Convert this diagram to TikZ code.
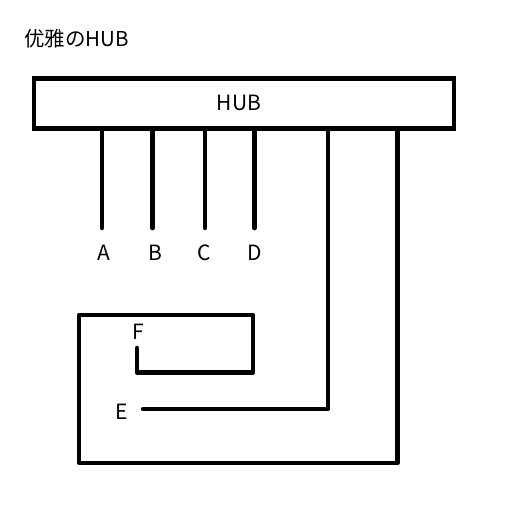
\documentclass[tikz,border=0pt]{standalone}
\usepackage{fontspec}
\setmainfont{Noto Sans CJK SC}
\usepackage{tikz}
\usetikzlibrary{positioning}

\begin{document}
\begin{tikzpicture}[
	x=1pt, y=-1pt,
	hubbox/.style={draw, rectangle, line width=4.5pt, minimum width=420pt, minimum height=50pt, inner sep=0pt},
	port/.style={font=\fontsize{21pt}{21pt}\selectfont, inner sep=1pt},
	wire/.style={line width=4.5pt, line cap=round, line join=round}
]
	\useasboundingbox (0,0) rectangle (512,512);

	\node[anchor=west, font=\fontsize{20.5pt}{20.5pt}\selectfont, inner sep=0pt] (title) at (24,38.5) {优雅のHUB};

	\node (hub) [hubbox] at (244,103.5) {};
	\node (hubtext) [port] at (239,103) {HUB};

	% ports A-D
	\node (A) [port] at (104,253) {A};
	\node (B) [port] at (155,253) {B};
	\node (C) [port] at (204,253) {C};
	\node (D) [port] at (255,253) {D};
	\node (E) [port] at (122,412) {E};
	\node (F) [port] at (138,332) {F};

	\coordinate (a) at (102,228);
	\coordinate (b) at (152.5,228);
	\coordinate (c) at (205,228);
	\coordinate (d) at (254.5,228);
	\coordinate (e) at (143,409);
	\coordinate (f) at (137,348);

	\draw[wire] (a |- hub.south) -- (a);
	\draw[wire] (b |- hub.south) -- (b);
	\draw[wire] (c |- hub.south) -- (c);
	\draw[wire] (d |- hub.south) -- (d);

	% E and F loops
	\draw[wire] ([xshift=84pt]hub.south) |- (e);
	\draw[wire] ([xshift=153.5pt]hub.south) -- (397.5,463) -- (79,463) -- (79,315) -- (253,315) -- (253,372.5) -- (137,372.5) -- (f);

\end{tikzpicture}
\end{document}
